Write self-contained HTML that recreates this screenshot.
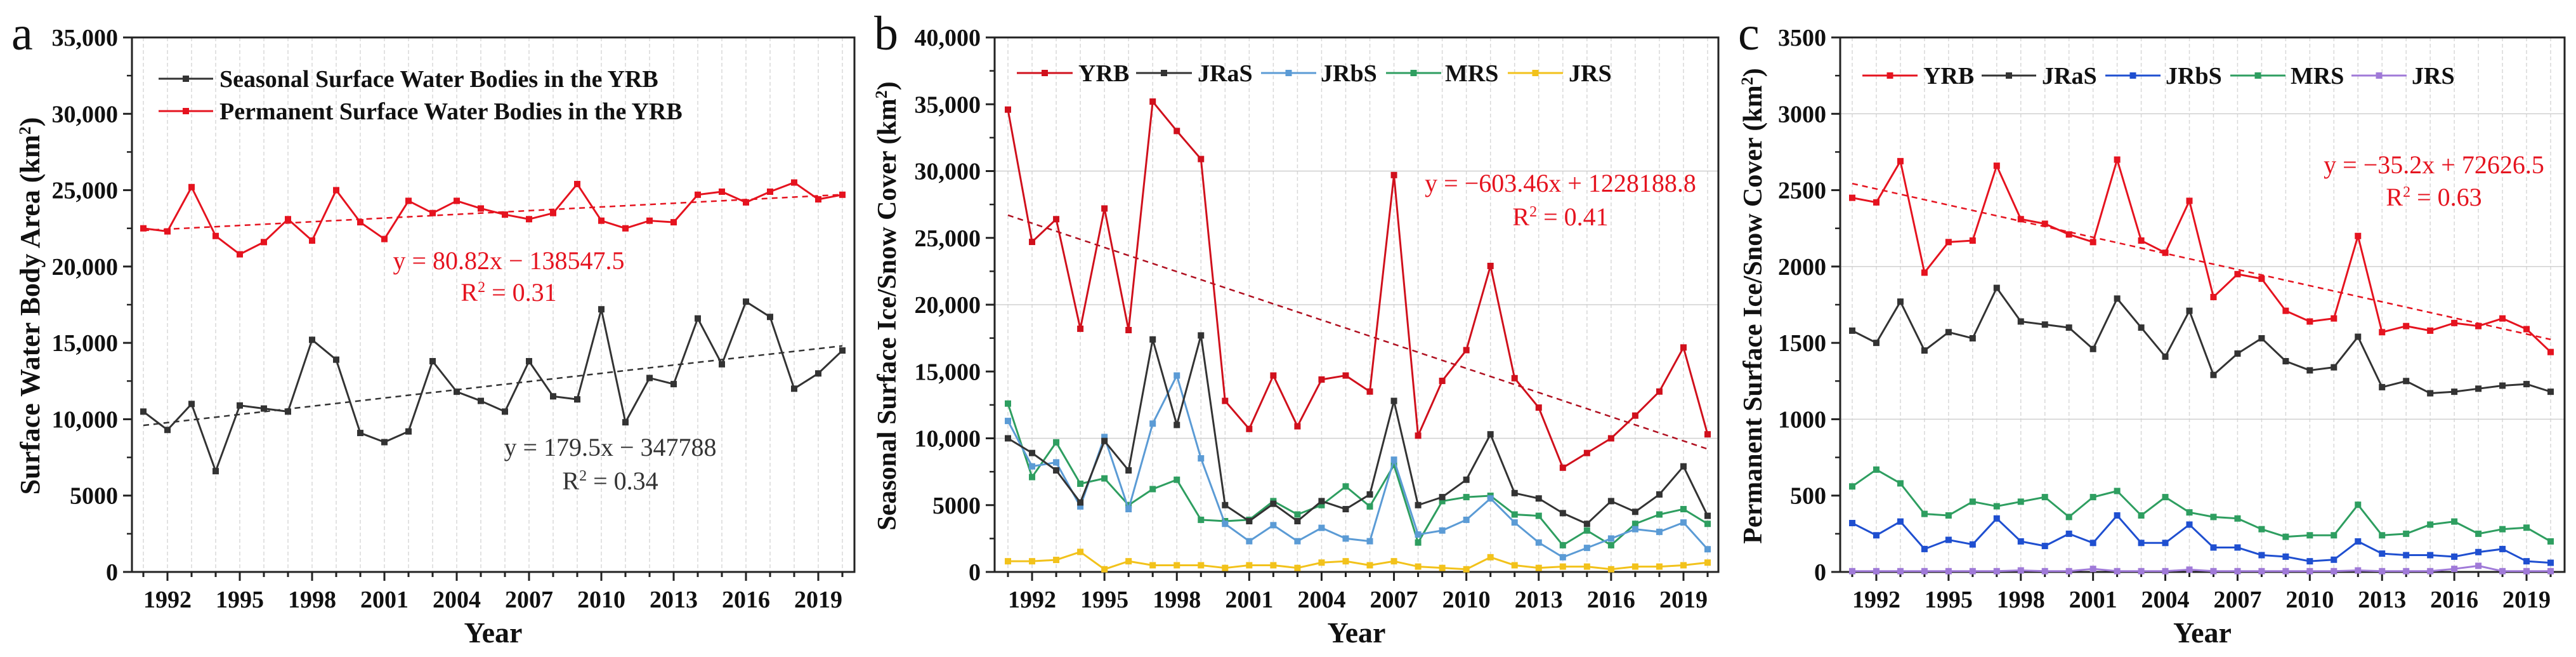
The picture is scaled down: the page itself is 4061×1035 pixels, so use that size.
<!DOCTYPE html>
<html><head><meta charset="utf-8"><style>
html,body{margin:0;padding:0;background:#fff}
svg text{font-family:"Liberation Serif",serif}
</style></head><body>
<svg id="fig" width="4061" height="1030" viewBox="0 0 4061 1030" xmlns="http://www.w3.org/2000/svg"></svg>
<script>
const years=[1991,1992,1993,1994,1995,1996,1997,1998,1999,2000,2001,2002,2003,2004,2005,2006,2007,2008,2009,2010,2011,2012,2013,2014,2015,2016,2017,2018,2019,2020];
const xTickLabels=[1992,1995,1998,2001,2004,2007,2010,2013,2016,2019];
// panel a
const aPermanent=[22500,22300,25200,22000,20800,21600,23100,21700,25000,22900,21800,24300,23500,24300,23800,23400,23100,23500,25400,23000,22500,23000,22900,24700,24900,24200,24900,25500,24400,24700];
const aSeasonal=[10500,9300,11000,6600,10900,10700,10500,15200,13900,9100,8500,9200,13800,11800,11200,10500,13800,11500,11300,17200,9800,12700,12300,16600,13600,17700,16700,12000,13000,14500];
const aYTicks=[0,5000,10000,15000,20000,25000,30000,35000];
const aYTickLabels=["0","5000","10,000","15,000","20,000","25,000","30,000","35,000"];
// panel b
const bYRB=[34600,24700,26400,18200,27200,18100,35200,33000,30900,12800,10700,14700,10900,14400,14700,13500,29700,10200,14300,16600,22900,14500,12300,7800,8900,10000,11700,13500,16800,10300];
const bJRaS=[10000,8900,7600,5200,9800,7600,17400,11000,17700,5000,3800,5100,3800,5300,4700,5800,12800,5000,5600,6900,10300,5900,5500,4400,3600,5300,4500,5800,7900,4200];
const bJRbS=[11300,7900,8200,4900,10100,4700,11100,14700,8500,3600,2300,3500,2300,3300,2500,2300,8400,2800,3100,3900,5500,3700,2200,1100,1800,2500,3200,3000,3700,1700];
const bMRS=[12600,7100,9700,6600,7000,5000,6200,6900,3900,3800,3900,5300,4300,5000,6400,4900,8000,2200,5300,5600,5700,4300,4200,2000,3100,2000,3600,4300,4700,3600];
const bJRS=[800,800,900,1500,200,800,500,500,500,300,500,500,300,700,800,500,800,400,300,200,1100,500,300,400,400,200,400,400,500,700];
const bYTicks=[0,5000,10000,15000,20000,25000,30000,35000,40000];
const bYTickLabels=["0","5000","10,000","15,000","20,000","25,000","30,000","35,000","40,000"];
// panel c
const cYRB=[2450,2420,2690,1960,2160,2170,2660,2310,2280,2210,2160,2700,2170,2090,2430,1800,1950,1920,1710,1640,1660,2200,1570,1610,1580,1630,1610,1660,1590,1440];
const cJRaS=[1580,1500,1770,1450,1570,1530,1860,1640,1620,1600,1460,1790,1600,1410,1710,1290,1430,1530,1380,1320,1340,1540,1210,1250,1170,1180,1200,1220,1230,1180];
const cJRbS=[320,240,330,150,210,180,350,200,170,250,190,370,190,190,310,160,160,110,100,70,80,200,120,110,110,100,130,150,70,60];
const cMRS=[560,670,580,380,370,460,430,460,490,360,490,530,370,490,390,360,350,280,230,240,240,440,240,250,310,330,250,280,290,200];
const cJRS=[5,5,5,5,5,5,5,10,5,5,20,5,5,5,15,5,5,5,5,5,5,10,5,5,5,20,40,5,5,5];
const cYTicks=[0,500,1000,1500,2000,2500,3000,3500];
const cYTickLabels=["0","500","1000","1500","2000","2500","3000","3500"];

const NS="http://www.w3.org/2000/svg";
const svg=document.getElementById('fig');
function mk(tag,attrs,parent,text){const e=document.createElementNS(NS,tag);for(const k in attrs)e.setAttribute(k,attrs[k]);if(text!==undefined)e.textContent=text;(parent||svg).appendChild(e);return e;}

function panel(cfg){
  const g=mk('g',{});
  
  
  const xs=v=>cfg.x0+(v-1991)/(2020-1991)*(cfg.x1-cfg.x0);
  const ys=v=>cfg.bot-(v/cfg.ymax)*(cfg.bot-cfg.top);
  // grid
  years.forEach(yr=>{const l=mk('line',{x1:xs(yr),x2:xs(yr),y1:cfg.top,y2:cfg.bot,stroke:'#d8d8d8','stroke-width':1.5,'stroke-dasharray':'6,4'},g);
    });
  if(cfg.hgrid){cfg.ticks.forEach((t,i)=>{if(i%2===0&&t>0){const l=mk('line',{x1:cfg.left,x2:cfg.right,y1:ys(t),y2:ys(t),stroke:'#d0d0d0','stroke-width':1.5},g);
    }});}
  // frame
  const fr=mk('rect',{x:cfg.left,y:cfg.top,width:cfg.right-cfg.left,height:cfg.bot-cfg.top,fill:'none',stroke:'#222','stroke-width':3},g);
  
  // y ticks
  cfg.ticks.forEach((t,i)=>{
    mk('line',{x1:cfg.left-14,x2:cfg.left,y1:ys(t),y2:ys(t),stroke:'#222','stroke-width':3},g);
    if(i<cfg.ticks.length-1){const m=(t+cfg.ticks[i+1])/2;mk('line',{x1:cfg.left-8,x2:cfg.left,y1:ys(m),y2:ys(m),stroke:'#222','stroke-width':2.5},g);}
    const tx=mk('text',{x:cfg.left-22,y:ys(t)+13,'text-anchor':'end','font-size':38,'font-weight':'bold',fill:'#111'},g,cfg.labels[i]);
    
  });
  years.forEach(yr=>{const major=xTickLabels.includes(yr);
    mk('line',{x1:xs(yr),x2:xs(yr),y1:cfg.bot,y2:cfg.bot+(major?14:8),stroke:'#222','stroke-width':3},g);});
  xTickLabels.forEach(yr=>{const tx=mk('text',{x:xs(yr),y:957,'text-anchor':'middle','font-size':38,'font-weight':'bold',fill:'#111'},g,yr);
    });
  const xt=mk('text',{x:(cfg.left+cfg.right)/2,y:1012,'text-anchor':'middle','font-size':46,'font-weight':'bold',fill:'#111'},g,'Year');
  
  const yt=mk('text',{x:0,y:0,'text-anchor':'middle','font-size':cfg.ytSize,'font-weight':'bold',fill:'#111',transform:`translate(${cfg.ytx},${cfg.yty}) rotate(-90)`},g);
  
  yt.innerHTML=cfg.ytitle+' (km<tspan dy="-14" font-size="26">2</tspan><tspan dy="14">)</tspan>';
  const pl=mk('text',{x:cfg.letterX,y:78,'font-size':76,fill:'#111'},g,cfg.letter);
  
  // trend
  if(cfg.trend){const t=cfg.trend;const l=mk('line',{x1:xs(1991),y1:ys(t.m*1991+t.b),x2:xs(2020),y2:ys(t.m*2020+t.b),stroke:t.color,'stroke-width':2.5,'stroke-dasharray':'9,7'},g);
    }
  if(cfg.trend2){const t=cfg.trend2;const l=mk('line',{x1:xs(1991),y1:ys(t.m*1991+t.b),x2:xs(2020),y2:ys(t.m*2020+t.b),stroke:t.color,'stroke-width':2.5,'stroke-dasharray':'9,7'},g);
    }
  // series
  cfg.series.slice().reverse().forEach(s=>{
    const sg=mk('g',{},g);
    
    
    const pts=s.data.map((v,i)=>xs(years[i])+','+ys(v)).join(' ');
    mk('polyline',{points:pts,fill:'none',stroke:s.color,'stroke-width':3,'stroke-linejoin':'round'},sg);
    s.data.forEach((v,i)=>{const r=mk('rect',{x:xs(years[i])-5,y:ys(v)-5,width:10,height:10,fill:s.color},sg);
      });
  });
  // legend
  cfg.legend.forEach(L=>{const lg=mk('g',{},g);
    
    mk('line',{x1:L.x1,x2:L.x2,y1:L.y,y2:L.y,stroke:L.color,'stroke-width':3},lg);
    mk('rect',{x:(L.x1+L.x2)/2-5,y:L.y-5,width:10,height:10,fill:L.color},lg);
    mk('text',{x:L.tx,y:L.y+13,'font-size':38,'font-weight':'bold',fill:'#111'},lg,L.text);});
  // equations
  cfg.eqs.forEach(E=>{const t=mk('text',{x:E.x,y:E.y,'text-anchor':'middle','font-size':40,fill:E.color},g);
    
    t.innerHTML=E.html;});
}
const RED='#e5131f',BLK='#333333';
panel({name:'panel-a',left:208,right:1347,top:59,bot:901,x0:226,x1:1328,ymax:35000,ticks:aYTicks,labels:aYTickLabels,hgrid:false,
  ytitle:'Surface Water  Body Area',ytSize:44,ytx:62,yty:482,letter:'a',letterX:18,
  trend:{m:80.82,b:-138547.5,color:RED},trend2:{m:179.5,b:-347788,color:BLK},
  series:[{key:'permanent',data:aPermanent,color:RED},{key:'seasonal',data:aSeasonal,color:BLK}],
  legend:[{x1:250,x2:336,y:124,tx:346,text:'Seasonal Surface Water Bodies in the YRB',color:BLK},{x1:250,x2:336,y:175,tx:346,text:'Permanent Surface Water Bodies in the YRB',color:RED}],
  eqs:[{x:802,y:424,color:RED,html:'y = 80.82x − 138547.5'},{x:802,y:474,color:RED,html:'R<tspan dy="-14" font-size="24">2</tspan><tspan dy="14"> = 0.31</tspan>'},
       {x:962,y:718,color:BLK,html:'y = 179.5x − 347788'},{x:962,y:771,color:BLK,html:'R<tspan dy="-14" font-size="24">2</tspan><tspan dy="14"> = 0.34</tspan>'}]});
panel({name:'panel-b',left:1568,right:2709,top:59,bot:901,x0:1589,x1:2692,ymax:40000,ticks:bYTicks,labels:bYTickLabels,hgrid:true,
  ytitle:'Seasonal Surface Ice/Snow Cover',ytSize:42,ytx:1412,yty:482,letter:'b',letterX:1378,
  trend:{m:-603.46,b:1228188.8,color:'#b01020'},
  series:[{key:'yrb',data:bYRB,color:'#d0101c'},{key:'jras',data:bJRaS,color:BLK},{key:'jrbs',data:bJRbS,color:'#5b9bd5'},{key:'mrs',data:bMRS,color:'#2e9e60'},{key:'jrs',data:bJRS,color:'#f2c21b'}],
  legend:[{x1:1603,x2:1691,y:115,tx:1700,text:'YRB',color:'#d0101c'},{x1:1791,x2:1879,y:115,tx:1888,text:'JRaS',color:BLK},{x1:1988,x2:2075,y:115,tx:2082,text:'JRbS',color:'#5b9bd5'},{x1:2185,x2:2272,y:115,tx:2278,text:'MRS',color:'#2e9e60'},{x1:2377,x2:2464,y:115,tx:2473,text:'JRS',color:'#f2c21b'}],
  eqs:[{x:2460,y:302,color:RED,html:'y = −603.46x + 1228188.8'},{x:2460,y:355,color:RED,html:'R<tspan dy="-14" font-size="24">2</tspan><tspan dy="14"> = 0.41</tspan>'}]});
panel({name:'panel-c',left:2901,right:4043,top:59,bot:901,x0:2920,x1:4021,ymax:3500,ticks:cYTicks,labels:cYTickLabels,hgrid:true,
  ytitle:'Permanent Surface Ice/Snow Cover',ytSize:42,ytx:2777,yty:482,letter:'c',letterX:2740,
  trend:{m:-35.2,b:72626.5,color:RED},
  series:[{key:'yrb',data:cYRB,color:RED},{key:'jras',data:cJRaS,color:BLK},{key:'jrbs',data:cJRbS,color:'#1f4fd0'},{key:'mrs',data:cMRS,color:'#2e9e60'},{key:'jrs',data:cJRS,color:'#a07ad8'}],
  legend:[{x1:2936,x2:3023,y:119,tx:3032,text:'YRB',color:RED},{x1:3124,x2:3210,y:119,tx:3219,text:'JRaS',color:BLK},{x1:3319,x2:3406,y:119,tx:3414,text:'JRbS',color:'#1f4fd0'},{x1:3516,x2:3603,y:119,tx:3611,text:'MRS',color:'#2e9e60'},{x1:3707,x2:3794,y:119,tx:3802,text:'JRS',color:'#a07ad8'}],
  eqs:[{x:3837,y:273,color:RED,html:'y = −35.2x + 72626.5'},{x:3837,y:324,color:RED,html:'R<tspan dy="-14" font-size="24">2</tspan><tspan dy="14"> = 0.63</tspan>'}]});
</script>
</body></html>
